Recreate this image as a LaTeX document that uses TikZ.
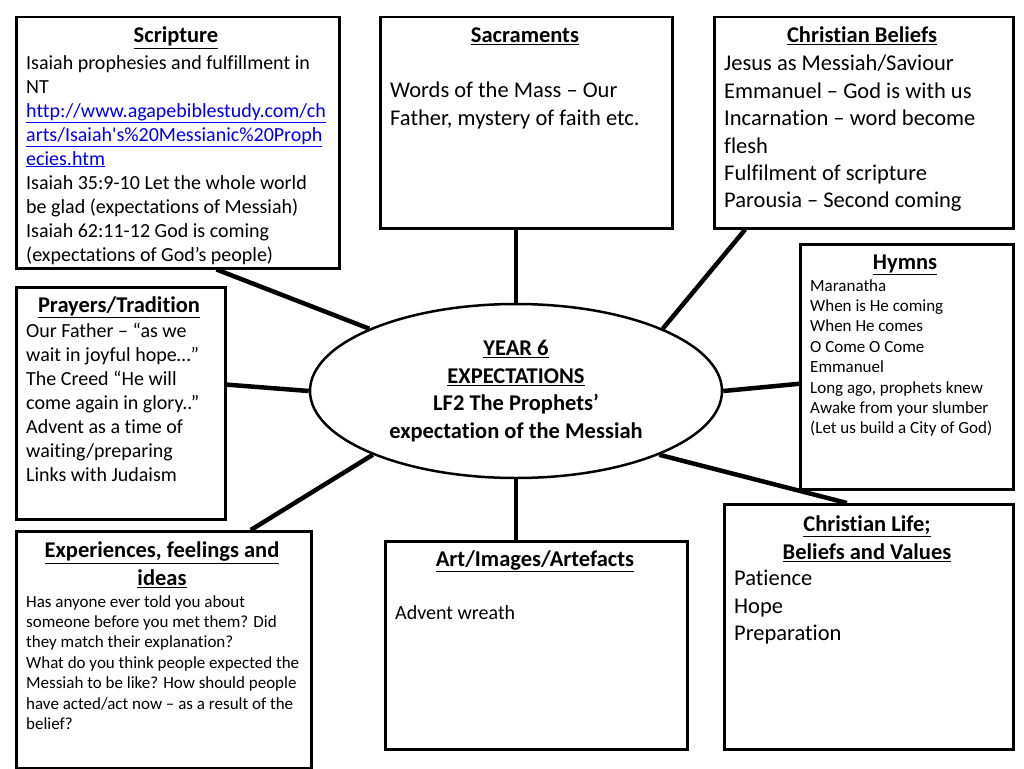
\documentclass[tikz,border=0pt]{standalone}
\usepackage{fontspec}
\setmainfont{Carlito}[Ligatures={TeX,NoCommon}]
\usetikzlibrary{shapes.geometric}
\definecolor{linkblue}{RGB}{0,0,235}

\begin{document}
\begin{tikzpicture}[
    x=1pt,
    y=-1pt,
    panel/.style={
        draw,
        line width=2.5pt,
        inner sep=0pt,
        anchor=north west
    },
    heading/.style={
        font=\fontsize{22.5}{27.4}\selectfont\bfseries,
        align=center,
        inner sep=0pt
    },
    bigtext/.style={font=\fontsize{22.5}{27.4}\selectfont, align=left, anchor=north west, inner sep=0pt},
    midtext/.style={font=\fontsize{20}{24}\selectfont, align=left, anchor=north west, inner sep=0pt},
    smalltext/.style={font=\fontsize{17}{20.4}\selectfont, align=left, anchor=north west, inner sep=0pt},
    spoke/.style={line width=4.5pt}
]

\useasboundingbox (0,0) rectangle (1024,768);

% Centre ellipse
\node[draw, ellipse, line width=2.5pt, minimum width=412, minimum height=174,
    inner sep=0pt, font=\fontsize{22.5}{27.4}\selectfont\bfseries, align=center]
    (centre) at (516,391)
    {\underline{YEAR 6}\\\underline{EXPECTATIONS}\\LF2 The Prophets’\\expectation of the Messiah};

% Boxes
\node[panel, minimum width=323, minimum height=251] (scripture) at (15,16) {};
\node[panel, minimum width=292, minimum height=211] (sacraments) at (379,16) {};
\node[panel, minimum width=299, minimum height=211] (beliefs) at (713,16) {};
\node[panel, minimum width=213, minimum height=245] (hymns) at (799,243) {};
\node[panel, minimum width=209, minimum height=232] (prayers) at (15,286) {};
\node[panel, minimum width=295, minimum height=237] (experiences) at (15,530) {};
\node[panel, minimum width=302, minimum height=208] (art) at (384,540) {};
\node[panel, minimum width=289, minimum height=245] (life) at (723,503) {};

% Spokes
\draw[spoke] (scripture.-73) -- (centre.157);
\draw[spoke] (centre.north |- sacraments.south) -- (centre.north);
\draw[spoke] (beliefs.222) -- (centre.23);
\draw[spoke] (prayers.10) -- (centre.west);
\draw[spoke] (hymns.189) -- (centre.east);
\draw[spoke] (experiences.54) -- (centre.204);
\draw[spoke] (centre.south) -- (centre.south |- art.north);
\draw[spoke] (life.100) -- (centre.-24);

% Scripture
\node[heading, anchor=base] (scripturehead) at (176,43) {\underline{Scripture}};
\node[midtext] (scripturetext) at (26,55)
    {Isaiah prophesies and fulfillment in\\
     NT\\
     {\color{linkblue}\underline{http://www.agapebiblestudy.com/ch}}\\
     {\color{linkblue}\underline{arts/Isaiah\textquotesingle s\%20Messianic\%20Proph}}\\
     {\color{linkblue}\underline{ecies.htm}}\\
     Isaiah 35:9-10 Let the whole world\\
     be glad (expectations of Messiah)\\
     Isaiah 62:11-12 God is coming\\
     (expectations of God’s people)};

% Sacraments
\node[heading, anchor=base] (sacramentshead) at (525,43) {\underline{Sacraments}};
\node[bigtext] (sacramentstext) at (390,82)
    {Words of the Mass – Our\\Father, mystery of faith etc.};

% Christian beliefs
\node[heading, anchor=base] (beliefshead) at (862,43) {\underline{Christian Beliefs}};
\node[bigtext] (beliefstext) at (724,55)
    {Jesus as Messiah/Saviour\\
     Emmanuel – God is with us\\
     Incarnation – word become\\
     flesh\\
     Fulfilment of scripture\\
     Parousia – Second coming};

% Hymns
\node[heading, anchor=base] (hymnshead) at (905,269) {\underline{Hymns}};
\node[smalltext] (hymnstext) at (810,279)
    {Maranatha\\
     When is He coming\\
     When He comes\\
     O Come O Come\\
     Emmanuel\\
     Long ago, prophets knew\\
     Awake from your slumber\\
     (Let us build a City of God)};

% Prayers
\node[heading, anchor=base] (prayershead) at (119,312) {\underline{Prayers/Tradition}};
\node[midtext] (prayerstext) at (26,323)
    {Our Father – “as we\\
     wait in joyful hope…”\\
     The Creed “He will\\
     come again in glory..”\\
     Advent as a time of\\
     waiting/preparing\\
     Links with Judaism};

% Experiences
\node[heading, anchor=north] (experienceshead) at (162,542)
    {\underline{Experiences, feelings and}\\\underline{ideas}};
\node[smalltext] (experiencestext) at (26,595)
    {Has anyone ever told you about\\
     someone before you met them? Did\\
     they match their explanation?\\
     What do you think people expected the\\
     Messiah to be like? How should people\\
     have acted/act now – as a result of the\\
     belief?};

% Art
\node[heading, anchor=base] (arthead) at (535,566) {\underline{Art/Images/Artefacts}};
\node[midtext] (arttext) at (395,605) {Advent wreath};

% Christian life
\node[heading, anchor=north] (lifehead) at (867,516)
    {\underline{Christian Life;}\\\underline{Beliefs and Values}};
\node[bigtext] (lifetext) at (734,570) {Patience\\Hope\\Preparation};

\end{tikzpicture}
\end{document}
